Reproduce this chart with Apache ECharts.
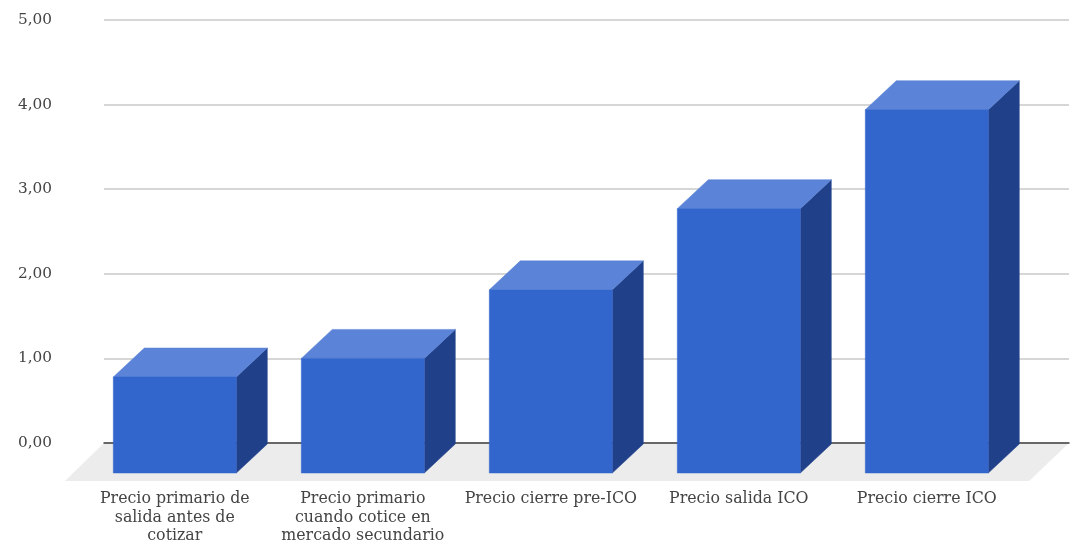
<!DOCTYPE html>
<html>
<head>
<meta charset="utf-8">
<style>html,body{margin:0;padding:0;background:#fff}#c{width:1073px;height:542px}</style>
<script src="https://cdn.jsdelivr.net/npm/echarts@6/dist/echarts.min.js"></script>
</head>
<body>
<div id="c"></div>
<script>
const categories = [
  "Precio primario de\nsalida antes de\ncotizar",
  "Precio primario\ncuando cotice en\nmercado secundario",
  "Precio cierre pre-ICO",
  "Precio salida ICO",
  "Precio cierre ICO"
];
const values = [0.78, 1.00, 1.81, 2.77, 3.94];
const yTicks = { min: 0, max: 5, interval: 1 };

const DX = 31, DY = 29, BAR_RATIO = 123 / 188;
const FONT = '"DejaVu Serif", serif';
const chart = echarts.init(document.getElementById('c'), null, { renderer: 'canvas' });

function renderBar(params, api) {
  const i = api.value(0), v = api.value(1);
  const top = api.coord([i, v]);
  const base = api.coord([i, 0]);
  const w = api.size([1, 0])[0] * BAR_RATIO;
  const x0 = top[0] - w / 2, x1 = top[0] + w / 2;
  const y0 = top[1], y1 = base[1] + DY + 1;
  const poly = (pts, fill) => ({
    type: 'polygon', shape: { points: pts },
    style: { fill: fill, stroke: fill, lineWidth: 0.5 }
  });
  return {
    type: 'group',
    children: [
      poly([[x1, y0], [x1 + DX, y0 - DY], [x1 + DX, y1 - DY], [x1, y1]], '#20418a'),
      poly([[x0, y0], [x0 + DX, y0 - DY], [x1 + DX, y0 - DY], [x1, y0]], '#5b83d7'),
      poly([[x0, y0], [x1, y0], [x1, y1], [x0, y1]], '#3366cc')
    ]
  };
}

function renderFloor(params, api) {
  const c = params.coordSys;
  const b = c.y + c.height;
  return {
    type: 'polygon',
    shape: { points: [[c.x, b], [c.x + c.width, b], [c.x + c.width - 40, b + 38], [c.x - 39, b + 38]] },
    style: { fill: '#ececec' }
  };
}

chart.setOption({
  animation: false,
  backgroundColor: '#ffffff',
  grid: [
    { left: 104, width: 965, top: 20, height: 423, outerBoundsMode: 'none' },
    { left: 80.8, width: 940, top: 20, height: 423, outerBoundsMode: 'none' }
  ],
  xAxis: [
    { gridIndex: 0, type: 'category', data: categories,
      axisLabel: { show: false }, axisTick: { show: false },
      axisLine: { show: true, onZero: true, lineStyle: { color: '#444444', width: 1.5 } } },
    { gridIndex: 1, type: 'category', data: categories,
      axisLine: { show: false }, axisTick: { show: false },
      axisLabel: { show: true, interval: 0, margin: 47, color: '#444444',
        fontFamily: FONT, fontSize: 15.8, lineHeight: 18.5, align: 'center' } }
  ],
  yAxis: [
    { gridIndex: 0, type: 'value', min: yTicks.min, max: yTicks.max, interval: yTicks.interval,
      axisLine: { show: false }, axisTick: { show: false },
      splitLine: { show: true, lineStyle: { color: '#c8c8c8', width: 1.5 } },
      axisLabel: { margin: 52, color: '#444444', fontFamily: FONT, fontSize: 15.3,
        formatter: v => v.toFixed(2).replace('.', ',') } },
    { gridIndex: 1, type: 'value', min: yTicks.min, max: yTicks.max, interval: yTicks.interval, show: false,
      splitLine: { show: false } }
  ],
  series: [
    { type: 'custom', xAxisIndex: 0, yAxisIndex: 0, z: -1, silent: true, clip: false,
      renderItem: renderFloor, data: [[0, 0]] },
    { type: 'custom', xAxisIndex: 1, yAxisIndex: 1, z: 3, clip: false,
      renderItem: renderBar, encode: { x: 0, y: 1 },
      data: values.map((v, i) => [i, v]) }
  ]
});
</script>
</body>
</html>
